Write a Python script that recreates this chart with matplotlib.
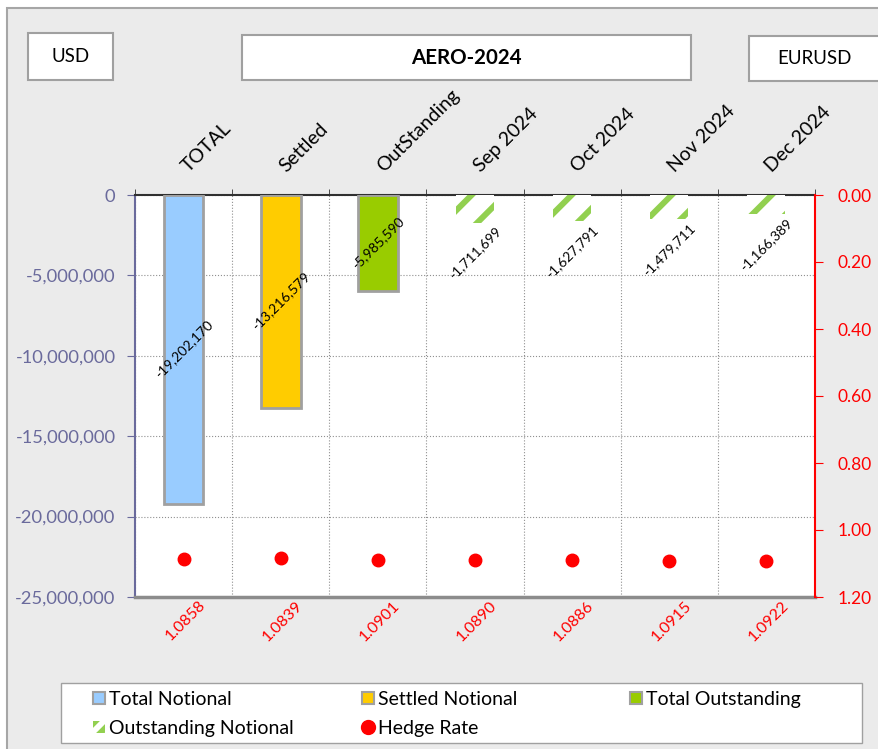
import matplotlib
matplotlib.use('Agg')
import matplotlib.pyplot as plt
from matplotlib.patches import Rectangle, Patch
from matplotlib.lines import Line2D
from matplotlib.ticker import FuncFormatter, MultipleLocator
import numpy as np

plt.rcParams['font.family'] = ['Lato', 'DejaVu Sans']
plt.rcParams['hatch.linewidth'] = 4.3

categories = ['TOTAL', 'Settled', 'OutStanding', 'Sep 2024', 'Oct 2024', 'Nov 2024', 'Dec 2024']
total_notional = [-19202170]
settled_notional = [-13216579]
total_outstanding = [-5985590]
outstanding_notional = [-1711699, -1627791, -1479711, -1166389]
hedge_rate = [1.0858, 1.0839, 1.0901, 1.0890, 1.0886, 1.0915, 1.0922]

W, H = 879, 749
fig = plt.figure(figsize=(W / 100, H / 100), dpi=100)
fig.patch.set_facecolor('white')

# grey panel with frame
fig.add_artist(Rectangle((7 / W, -0.05), 1.1, 1 - 8 / H + 0.05, transform=fig.transFigure,
                         facecolor='#ebebeb', edgecolor='#a6a6a6', lw=1.5, zorder=-10))

# header boxes
def box(x0, y0, x1, y1, text, bold=False):
    fig.add_artist(Rectangle((x0 / W, 1 - y1 / H), (x1 - x0) / W, (y1 - y0) / H,
                             transform=fig.transFigure, facecolor='white',
                             edgecolor='#a0a0a0', lw=1.5))
    fig.text((x0 + x1) / 2 / W, 1 - (y0 + y1) / 2 / H, text, ha='center', va='center',
             fontsize=14.8 if bold else 13.5, fontweight='bold' if bold else 'normal')

box(28, 33, 113, 80, 'USD')
box(242, 35, 691, 80, 'AERO-2024', bold=True)
box(749, 36, 880, 81, 'EURUSD')

ax = fig.add_axes([135 / W, 1 - 597 / H, 680 / W, 402 / H])
ax.set_facecolor('white')
x = np.arange(len(categories))
bw = 0.41
edge = '#a0a0a0'

ax.bar(x[0:1], total_notional, bw, color='#99ccff', edgecolor=edge, lw=2, zorder=3)
ax.bar(x[1:2], settled_notional, bw, color='#ffcc00', edgecolor=edge, lw=2, zorder=3)
ax.bar(x[2:3], total_outstanding, bw, color='#99cc00', edgecolor=edge, lw=2, zorder=3)
ax.bar(x[3:], outstanding_notional, 0.39, color='white', edgecolor='#92d050', lw=0,
       hatch='/', zorder=3)

# data labels
for xi, v in zip(x[:3], total_notional + settled_notional + total_outstanding):
    ax.text(xi, v / 2, f'{v:,}', rotation=45, ha='center', va='center', fontsize=10, zorder=5)
for xi, v in zip(x[3:], outstanding_notional):
    ax.text(xi, v - 150000, f'{v:,}', rotation=45, ha='center', va='top', fontsize=10, zorder=5)

ax.set_xlim(-0.5, len(categories) - 0.5)
ax.set_ylim(-25000000, 0)
ax.yaxis.set_major_locator(MultipleLocator(5000000))
ax.yaxis.set_major_formatter(FuncFormatter(lambda v, p: f'{int(v):,}'))
ax.set_xticks([])
ax.set_xticks(np.arange(-0.5, len(categories)), minor=True)
ax.grid(axis='x', which='minor', linestyle=':', color='#909090', lw=0.8, zorder=0)
ax.grid(axis='y', which='major', linestyle=':', color='#909090', lw=0.8, zorder=0)
ax.tick_params(axis='x', which='minor', top=True, bottom=False, direction='out', length=4,
               color='#303030')
slate = '#6a6a9c'
ax.tick_params(axis='y', colors=slate, labelsize=13.2, direction='out', length=6, pad=8)
ax.spines['left'].set_color(slate)
ax.spines['left'].set_linewidth(1.5)
ax.spines['top'].set_color('#303030')
ax.spines['top'].set_linewidth(1.5)
ax.spines['bottom'].set_color('#8c8c8c')
ax.spines['bottom'].set_linewidth(2.5)
ax.spines['right'].set_visible(False)

ax2 = ax.twinx()
ax2.plot(x, hedge_rate, 'o', color='red', markersize=9, zorder=4)
ax2.set_ylim(1.2, 0)
ax2.yaxis.set_major_locator(MultipleLocator(0.2))
ax2.yaxis.set_major_formatter(FuncFormatter(lambda v, p: f'{v:.2f}'))
ax2.tick_params(axis='y', colors='red', labelsize=12.5, direction='out', length=6, pad=10)
for s in ['left', 'top', 'bottom']:
    ax2.spines[s].set_visible(False)
ax2.spines['right'].set_color('red')
ax2.spines['right'].set_linewidth(1.5)

# category labels on top, hedge rate labels below
for xi, c in zip(x, categories):
    ax.text(xi + 0.08, 1.05, c, transform=ax.get_xaxis_transform(), rotation=45,
            rotation_mode='anchor', ha='left', va='bottom', fontsize=14)
for xi, r in zip(x, hedge_rate):
    ax.text(xi + 0.02, -0.003, f'{r:.4f}', transform=ax.get_xaxis_transform(), rotation=45,
            ha='center', va='top', fontsize=11.5, color='red')

# legend: white box with three columns
fig.add_artist(Rectangle((61 / W, 1 - 743 / H), 801 / W, 60 / H, transform=fig.transFigure,
                         facecolor='white', edgecolor='#a0a0a0', lw=1))
tn = Patch(facecolor='#99ccff', edgecolor=edge, lw=1.5)
on = Patch(facecolor='white', edgecolor='#92d050', lw=0, hatch='//')
sn = Patch(facecolor='#ffcc00', edgecolor=edge, lw=1.5)
hr = Line2D([], [], marker='o', color='red', ls='none', markersize=10)
to = Patch(facecolor='#99cc00', edgecolor=edge, lw=1.5)
columns = [
    (93, [tn, on], ['Total Notional', 'Outstanding Notional']),
    (362, [sn, hr], ['Settled Notional', 'Hedge Rate']),
    (630, [to], ['Total Outstanding']),
]
for cx, hs, ls in columns:
    fig.legend(hs, ls, loc='upper left', bbox_to_anchor=(cx / W, 1 - 691 / H),
               fontsize=14, handlelength=0.6, handleheight=0.6, handletextpad=0.2,
               borderaxespad=0, borderpad=0, labelspacing=0.6, frameon=False)

fig.savefig('out.png', dpi=100, facecolor=fig.get_facecolor())
